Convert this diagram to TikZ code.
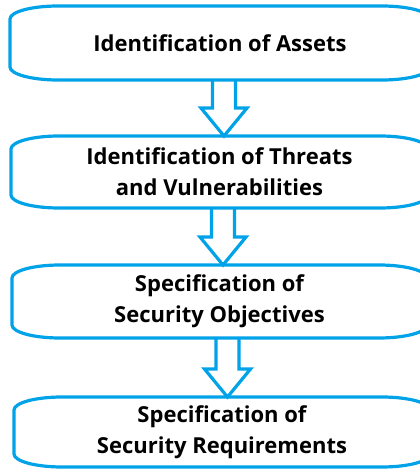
\documentclass[tikz,border=0pt]{standalone}
\usepackage{fontspec}
\setmainfont{Open Sans}
\usetikzlibrary{calc}
\definecolor{flowblue}{RGB}{0,162,232}

% frame with flattened elliptical corners around a node
\newcommand\stageframe[1]{%
  \draw[frameline]
    ([xshift=48pt]#1.north west) -- ([xshift=-48pt]#1.north east)
    arc[start angle=90, end angle=0, x radius=48pt, y radius=13pt]
    -- ([yshift=13pt]#1.south east)
    arc[start angle=0, end angle=-90, x radius=48pt, y radius=13pt]
    -- ([xshift=48pt]#1.south west)
    arc[start angle=270, end angle=180, x radius=48pt, y radius=13pt]
    -- ([yshift=-13pt]#1.north west)
    arc[start angle=180, end angle=90, x radius=48pt, y radius=13pt]
    -- cycle;}

% hollow block arrow from the bottom of #1 to the top of #2 along the x of #3
\newcommand\blockarrow[3]{%
  \draw[frameline, line join=miter]
    ($(#3 |- #1.south)+(-11.5,0)$) -- ($(#3 |- #2.north)+(-11.5,28)$)
    -- ($(#3 |- #2.north)+(-23,28)$) -- (#3 |- #2.north)
    -- ($(#3 |- #2.north)+(23,28)$) -- ($(#3 |- #2.north)+(11.5,28)$)
    -- ($(#3 |- #1.south)+(11.5,0)$);}

\tikzset{
  frameline/.style={draw=flowblue, line width=3.2pt},
  stage/.style={inner sep=0pt, outer sep=0pt, align=center,
    font=\bfseries\fontsize{22}{31}\selectfont},
}

\begin{document}
\begin{tikzpicture}[x=1pt, y=1pt]
  \useasboundingbox (0,0) rectangle (420,469);

  \node[stage, minimum width=420pt, minimum height=74pt] (assets) at (220,426)
    {Identification of Assets};
  \node[stage, minimum width=417pt, minimum height=72pt] (threats) at (219.5,297)
    {Identification of Threats\\and Vulnerabilities};
  \node[stage, minimum width=415pt, minimum height=73pt] (objectives) at (219.5,167.5)
    {Specification of\\Security Objectives};
  \node[stage, minimum width=416pt, minimum height=70pt] (requirements) at (222,37)
    {Specification of\\Security Requirements};

  \foreach \n in {assets,threats,objectives,requirements}{\stageframe{\n}}

  \coordinate (a1) at (224,0);
  \coordinate (a2) at (223,0);
  \coordinate (a3) at (227.5,0);
  \blockarrow{assets}{threats}{a1}
  \blockarrow{threats}{objectives}{a2}
  \blockarrow{objectives}{requirements}{a3}
\end{tikzpicture}
\end{document}
